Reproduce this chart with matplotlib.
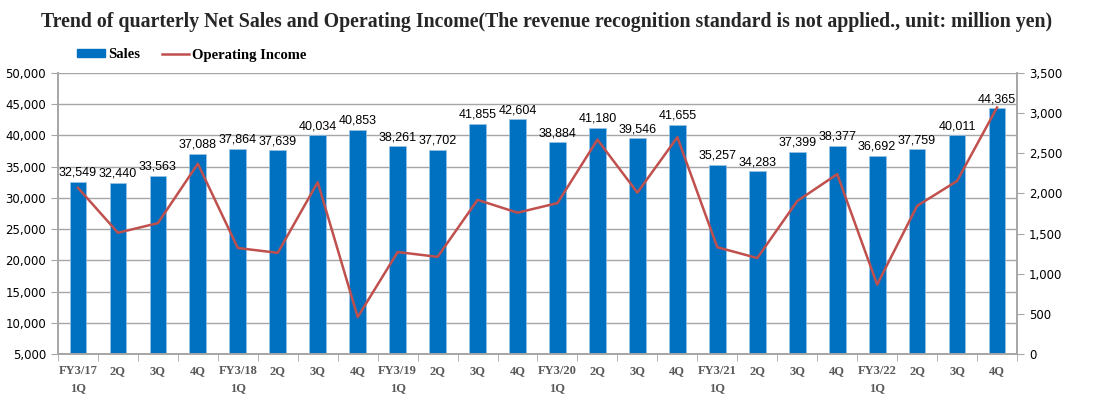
import matplotlib
matplotlib.use("Agg")
import matplotlib.pyplot as plt
from matplotlib.patches import Patch
from matplotlib.lines import Line2D
import numpy as np

quarters = ["FY3/17\n1Q", "2Q", "3Q", "4Q",
            "FY3/18\n1Q", "2Q", "3Q", "4Q",
            "FY3/19\n1Q", "2Q", "3Q", "4Q",
            "FY3/20\n1Q", "2Q", "3Q", "4Q",
            "FY3/21\n1Q", "2Q", "3Q", "4Q",
            "FY3/22\n1Q", "2Q", "3Q", "4Q"]
sales = [32549, 32440, 33563, 37088,
         37864, 37639, 40034, 40853,
         38261, 37702, 41855, 42604,
         38884, 41180, 39546, 41655,
         35257, 34283, 37399, 38377,
         36692, 37759, 40011, 44365]
op_income = [2070, 1510, 1630, 2370,
             1320, 1260, 2140, 460,
             1270, 1210, 1920, 1760,
             1880, 2670, 2010, 2700,
             1330, 1195, 1905, 2240,
             865, 1845, 2155, 3070]

bar_color = "#0070C0"
line_color = "#C0504D"
grid_color = "#A6A6A6"

fig = plt.figure(figsize=(10.93, 3.97), dpi=100)
ax = fig.add_axes([58/1093, 1 - 354/397, (1017-58)/1093, (354-73)/397])
ax2 = ax.twinx()

x = np.arange(len(sales))
ax.bar(x, sales, width=0.42, color=bar_color, edgecolor="#9DC3E6", linewidth=0.5, zorder=2)
for xi, v in zip(x, sales):
    ax.text(xi, v + 500, f"{v:,}", ha="center", va="bottom", fontsize=9,
            family="Liberation Sans", color="#000000", zorder=3)

ax2.plot(x, op_income, color=line_color, linewidth=1.8, zorder=4)

ax.set_xlim(-0.5, len(sales) - 0.5)
ax.set_ylim(5000, 50000)
ax.set_yticks(np.arange(5000, 50001, 5000))
ax.set_yticklabels([f"{v:,}" for v in range(5000, 50001, 5000)], fontsize=8.5, family="DejaVu Sans")
ax2.set_ylim(0, 3500)
ax2.set_yticks(np.arange(0, 3501, 500))
ax2.set_yticklabels([f"{v:,}" for v in range(0, 3501, 500)], fontsize=8.5, family="DejaVu Sans")

ax.yaxis.grid(True, color=grid_color, linewidth=1.0, zorder=0)
ax.set_axisbelow(True)

ax.set_xticks(x)
ax.set_xticklabels(quarters, fontsize=9, family="Liberation Serif", fontweight="bold", color="#595959",
                   linespacing=1.6)
ax.tick_params(axis="x", length=0, pad=8)
ax.set_xticks(np.arange(-0.5, len(sales), 1), minor=True)
ax.tick_params(axis="x", which="minor", length=5, color=grid_color)
ax.tick_params(axis="y", length=5, color=grid_color)
ax2.tick_params(axis="y", length=5, color=grid_color)

for a in (ax, ax2):
    a.spines["top"].set_visible(False)
    for sp in ["left", "right", "bottom"]:
        a.spines[sp].set_color(grid_color)
        a.spines[sp].set_linewidth(1.2)

fig.text(0.5, 1 - 22/397, "Trend of quarterly Net Sales and Operating Income(The revenue recognition standard is not applied., unit: million yen)",
         ha="center", va="center", fontsize=14.3, family="Liberation Serif", fontweight="bold", color="#262626")

handles = [Patch(facecolor=bar_color, edgecolor=bar_color),
           Line2D([0], [0], color=line_color, linewidth=1.8)]
fig.legend(handles, ["Sales", "Operating Income"], loc="center left",
           bbox_to_anchor=(64/1093, 1 - 55/397), ncol=2, frameon=False,
           prop={"family": "Liberation Serif", "weight": "bold", "size": 10.5},
           handlelength=1.9, handleheight=0.5, handletextpad=0.2, columnspacing=1.5)

plt.savefig("out.png", dpi=100)
